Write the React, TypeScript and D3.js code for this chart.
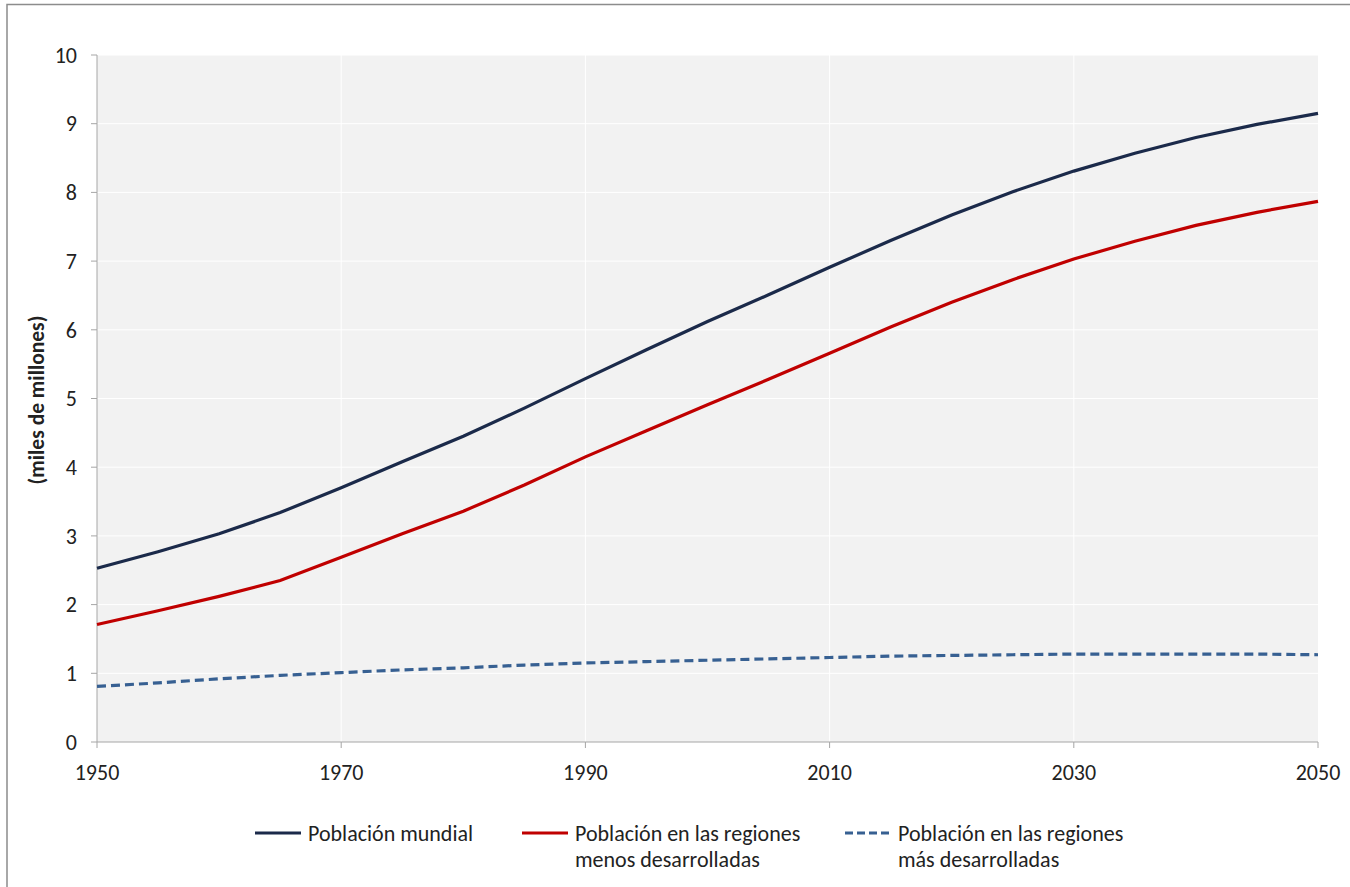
import React from "react";
import * as d3 from "d3";

const years = [1950, 1955, 1960, 1965, 1970, 1975, 1980, 1985, 1990, 1995, 2000, 2005, 2010, 2015, 2020, 2025, 2030, 2035, 2040, 2045, 2050];
const world = [2.53, 2.77, 3.03, 3.34, 3.70, 4.08, 4.45, 4.86, 5.29, 5.71, 6.12, 6.51, 6.91, 7.30, 7.67, 8.01, 8.31, 8.57, 8.80, 8.99, 9.15];
const lessDev = [1.71, 1.91, 2.12, 2.35, 2.69, 3.03, 3.36, 3.74, 4.15, 4.53, 4.91, 5.28, 5.66, 6.04, 6.40, 6.73, 7.03, 7.29, 7.52, 7.71, 7.87];
const moreDev = [0.81, 0.86, 0.92, 0.97, 1.01, 1.05, 1.08, 1.12, 1.15, 1.17, 1.19, 1.21, 1.23, 1.25, 1.26, 1.27, 1.28, 1.28, 1.28, 1.28, 1.27];
const xTicks = [1950, 1970, 1990, 2010, 2030, 2050];
const yTicks = [0, 1, 2, 3, 4, 5, 6, 7, 8, 9, 10];
const yTitle = "(miles de millones)";
const seriesNames = [["Población mundial"], ["Población en las regiones", "menos desarrolladas"], ["Población en las regiones", "más desarrolladas"]];

const W = 1350, H = 887;
const font = "Carlito, Lato, 'Liberation Sans', sans-serif";

export default function App() {
  const x = d3.scaleLinear().domain([1950, 2050]).range([97, 1318]);
  const y = d3.scaleLinear().domain([0, 10]).range([742, 55]);
  const line = d3.line<number>().x((_, i) => x(years[i])).y((d) => y(d));
  const series = [
    { vals: world, color: "#1b2a4a", dash: undefined as string | undefined },
    { vals: lessDev, color: "#c00000", dash: undefined },
    { vals: moreDev, color: "#376092", dash: "9,5" },
  ];
  const legendX = [255, 522, 845];
  const axisColor = "#a6a6a6";
  return (
    <svg width={W} height={H} style={{ position: "absolute", left: 0, top: 0, background: "#fff" }} fontFamily={font}>
      <rect x={7} y={4.5} width={W} height={H} fill="#fff" stroke="#8c8c8c" strokeWidth={1.5} />
      <rect x={x(1950)} y={y(10)} width={x(2050) - x(1950)} height={y(0) - y(10)} fill="#f2f2f2" />
      {yTicks.filter((t) => t > 0).map((t) => (
        <line key={"gy" + t} x1={x(1950)} x2={x(2050)} y1={y(t)} y2={y(t)} stroke="#fff" strokeWidth={1} />
      ))}
      {xTicks.filter((t) => t > 1950 && t < 2050).map((t) => (
        <line key={"gx" + t} x1={x(t)} x2={x(t)} y1={y(10)} y2={y(0)} stroke="#fff" strokeWidth={1} />
      ))}
      <line x1={x(1950)} x2={x(1950)} y1={y(10)} y2={y(0)} stroke={axisColor} strokeWidth={1} />
      <line x1={x(1950)} x2={x(2050)} y1={y(0)} y2={y(0)} stroke={axisColor} strokeWidth={1} />
      {yTicks.map((t) => (
        <g key={"ty" + t}>
          <line x1={x(1950) - 6} x2={x(1950)} y1={y(t)} y2={y(t)} stroke={axisColor} />
          <text x={77} y={y(t)} dy="0.35em" textAnchor="end" fontSize={22} fill="#222">{t}</text>
        </g>
      ))}
      {xTicks.map((t) => (
        <g key={"tx" + t}>
          <line x1={x(t)} x2={x(t)} y1={y(0)} y2={y(0) + 6} stroke={axisColor} />
          <text x={x(t)} y={780} textAnchor="middle" fontSize={22} fill="#222">{t}</text>
        </g>
      ))}
      <text transform={`translate(44,400) rotate(-90)`} textAnchor="middle" fontSize={21.5} fontWeight="bold" fill="#222">{yTitle}</text>
      {series.map((s, i) => (
        <path key={"s" + i} d={line(s.vals) || ""} fill="none" stroke={s.color} strokeWidth={3.2} strokeDasharray={s.dash} />
      ))}
      {series.map((s, i) => (
        <g key={"l" + i}>
          <line x1={legendX[i]} x2={legendX[i] + 46} y1={833} y2={833} stroke={s.color} strokeWidth={3.2} strokeDasharray={s.dash ? "8,4" : undefined} />
          {seriesNames[i].map((txt, j) => (
            <text key={j} x={legendX[i] + 53} y={833 + j * 26} dy="0.35em" fontSize={22} fill="#222">{txt}</text>
          ))}
        </g>
      ))}
    </svg>
  );
}
